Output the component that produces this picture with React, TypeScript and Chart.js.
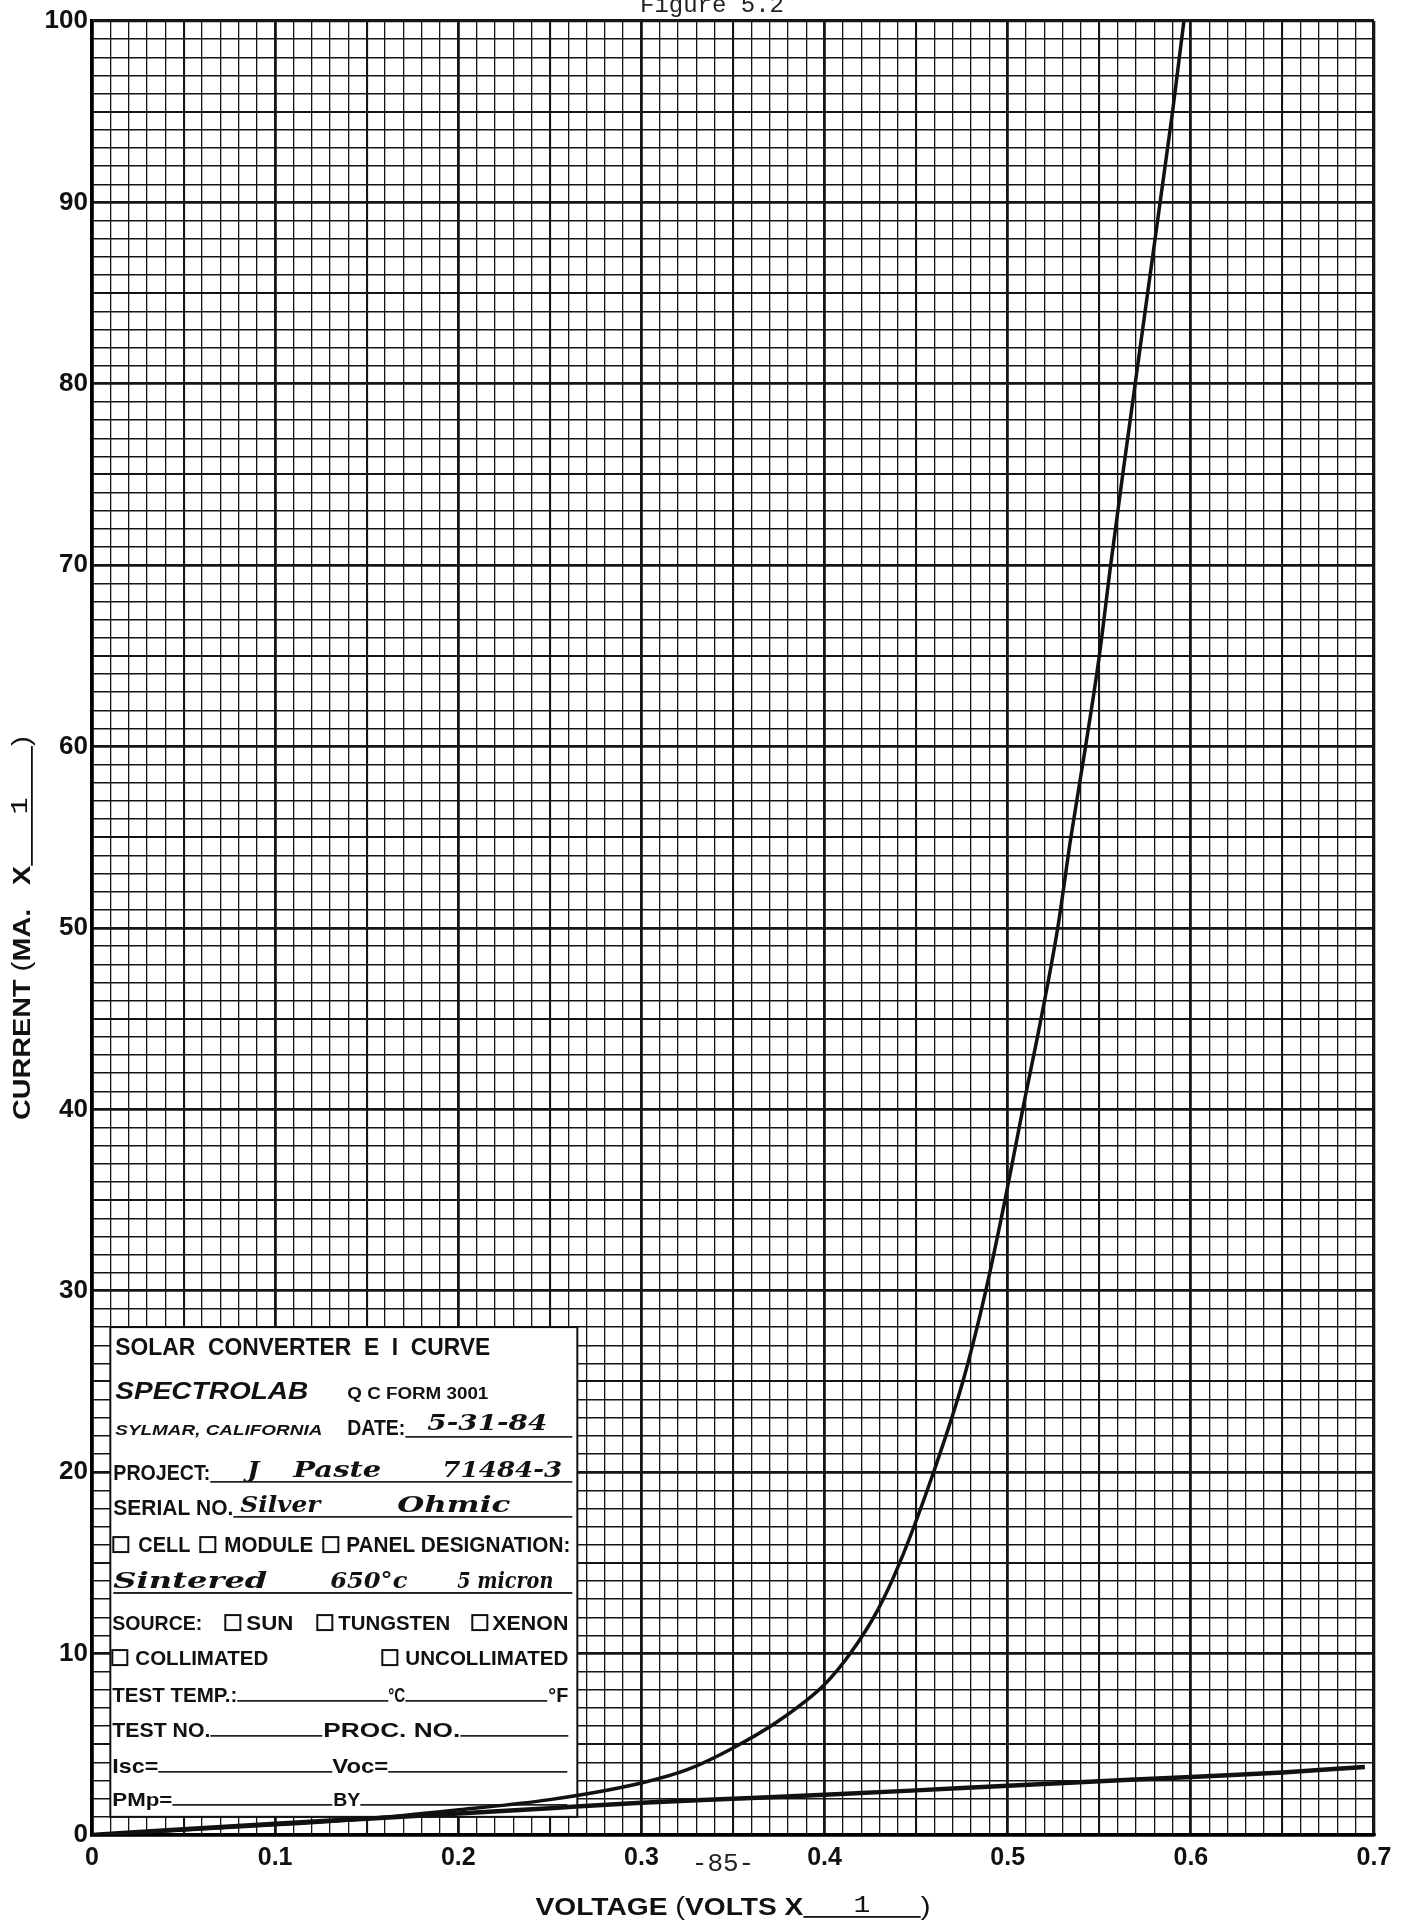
import React, { useEffect, useRef } from 'react';
import { Chart, registerables } from 'chart.js';

Chart.register(...registerables);

// ---- data ----
const steepVolts = [0, 0.05, 0.1, 0.15, 0.2, 0.25, 0.3, 0.325, 0.35, 0.375, 0.4, 0.414, 0.429, 0.441, 0.4595, 0.4755, 0.488, 0.4985, 0.5082, 0.5182, 0.5273, 0.5345, 0.5425, 0.55, 0.5562, 0.5628, 0.5696, 0.5764, 0.5832, 0.59, 0.5962];
const steepCurrent = [0, 0.28, 0.56, 0.9, 1.39, 1.95, 2.87, 3.6, 4.8, 6.3, 8.3, 10, 12.4, 15, 20, 25, 30, 35, 40, 45, 50, 55, 60, 65, 70, 75, 80, 85, 90, 95, 100];
const flatVolts = [0, 0.05, 0.1, 0.15, 0.2, 0.25, 0.3, 0.35, 0.4, 0.45, 0.5, 0.55, 0.6, 0.65, 0.695];
const flatCurrent = [0, 0.32, 0.62, 0.9, 1.18, 1.48, 1.78, 2.0, 2.22, 2.46, 2.72, 2.96, 3.2, 3.45, 3.75];
const xTickLabels = ['0', '0.1', '0.2', '0.3', '0.4', '0.5', '0.6', '0.7'];
const yTickLabels = ['0', '10', '20', '30', '40', '50', '60', '70', '80', '90', '100'];
const yTitleText = 'CURRENT (MA.   X';
const xTitleText = 'VOLTAGE (VOLTS X';
const multiplierText = '1';
const figureCaption = 'Figure 5.2';
const pageNumber = '-85-';

const SANS = '"Liberation Sans", Arial, Helvetica, sans-serif';
const MONO = '"Liberation Mono", "Courier New", monospace';
const HAND = '"DejaVu Serif", "Liberation Serif", serif';

function fitText(ctx: CanvasRenderingContext2D, text: string, x: number, y: number, w: number, font: string) {
  ctx.save();
  ctx.font = font;
  const m = ctx.measureText(text).width || 1;
  ctx.translate(x, y);
  ctx.scale(w / m, 1);
  ctx.textAlign = 'left';
  ctx.textBaseline = 'alphabetic';
  ctx.fillText(text, 0, 0);
  ctx.restore();
}

function hline(ctx: CanvasRenderingContext2D, x0: number, x1: number, y: number, w = 1.6) {
  ctx.fillRect(x0, y, x1 - x0, w);
}

function cbox(ctx: CanvasRenderingContext2D, x: number, baseline: number) {
  ctx.save();
  ctx.lineWidth = 2;
  ctx.strokeStyle = '#111';
  ctx.strokeRect(x, baseline - 15, 15, 15);
  ctx.restore();
}

function drawAxisTitle(ctx: CanvasRenderingContext2D, label: string, cx: number, cy: number, rot: number, target: number) {
  ctx.save();
  ctx.translate(cx, cy);
  ctx.rotate(rot);
  const bold = `bold 24px ${SANS}`;
  const thin = `25px ${SANS}`;
  const idx = label.indexOf('(');
  const a = label.slice(0, idx);
  const b = label.slice(idx + 1);
  ctx.font = bold;
  const wa = ctx.measureText(a).width;
  const wb = ctx.measureText(b).width;
  ctx.font = thin;
  const wp = ctx.measureText('(').width;
  const ul = 100;
  const total = wa + wp + wb + ul + wp;
  ctx.scale(target / total, 1);
  ctx.fillStyle = '#111';
  ctx.textBaseline = 'middle';
  ctx.textAlign = 'left';
  let x = -total / 2;
  ctx.font = bold; ctx.fillText(a, x, 0); x += wa;
  ctx.font = thin; ctx.fillText('(', x, 0); x += wp;
  ctx.font = bold; ctx.fillText(b, x, 0); x += wb;
  ctx.fillRect(x, 8, ul, 1.8);
  ctx.font = `24px ${MONO}`;
  ctx.textAlign = 'center';
  ctx.fillText(multiplierText, x + ul * 0.5, -2);
  ctx.textAlign = 'left';
  x += ul;
  ctx.font = thin; ctx.fillText(')', x, 0);
  ctx.restore();
}

const formPlugin = {
  id: 'qcForm',
  beforeDatasetsDraw(chart: any) {
    const { ctx, scales } = chart;
    const xs = scales.x, ys = scales.y;
    const L = xs.getPixelForValue(0.01), R = xs.getPixelForValue(0.265);
    const T = ys.getPixelForValue(28), B = ys.getPixelForValue(1);
    ctx.save();
    ctx.fillStyle = '#fff';
    ctx.fillRect(L, T, R - L, B - T);
    ctx.strokeStyle = '#111';
    ctx.lineWidth = 2;
    ctx.strokeRect(L, T, R - L, B - T);
    ctx.translate(L - 110, T - 1327);
    ctx.fillStyle = '#111';
    const f = (s: number) => `bold ${s}px ${SANS}`;
    const hand = `italic bold 23px ${HAND}`;
    // rows
    fitText(ctx, 'SOLAR  CONVERTER  E  I  CURVE', 115, 1355, 375, f(23));
    fitText(ctx, 'SPECTROLAB', 115, 1399, 193, `italic bold 23px ${SANS}`);
    fitText(ctx, 'Q C FORM 3001', 347, 1399, 141, f(16));
    fitText(ctx, 'SYLMAR, CALIFORNIA', 115, 1435, 207, `italic bold 14px ${SANS}`);
    fitText(ctx, 'DATE:', 347, 1435, 58, f(22));
    hline(ctx, 405, 572, 1436);
    fitText(ctx, '5-31-84', 427, 1430, 120, hand);
    fitText(ctx, 'PROJECT:', 113, 1480, 97, f(22));
    hline(ctx, 210, 572, 1481);
    fitText(ctx, 'J', 247, 1477, 12, hand);
    fitText(ctx, 'Paste', 293, 1477, 88, hand);
    fitText(ctx, '71484-3', 442, 1477, 120, hand);
    fitText(ctx, 'SERIAL NO.', 113, 1515, 120, f(22));
    hline(ctx, 233, 572, 1516);
    fitText(ctx, 'Silver', 240, 1512, 80, hand);
    fitText(ctx, 'Ohmic', 397, 1512, 113, hand);
    cbox(ctx, 113, 1552);
    fitText(ctx, 'CELL', 138, 1552, 52, f(22));
    cbox(ctx, 200, 1552);
    fitText(ctx, 'MODULE', 224, 1552, 89, f(22));
    cbox(ctx, 323, 1552);
    fitText(ctx, 'PANEL DESIGNATION:', 346, 1552, 224, f(22));
    fitText(ctx, 'Sintered', 113, 1588, 154, hand);
    fitText(ctx, '650°c', 330, 1588, 77, hand);
    fitText(ctx, '5 micron', 457, 1588, 96, hand);
    hline(ctx, 113, 572, 1592, 1.8);
    fitText(ctx, 'SOURCE:', 112, 1630, 90, f(21));
    cbox(ctx, 225, 1630);
    fitText(ctx, 'SUN', 246, 1630, 47, f(21));
    cbox(ctx, 317, 1630);
    fitText(ctx, 'TUNGSTEN', 338, 1630, 112, f(21));
    cbox(ctx, 472, 1630);
    fitText(ctx, 'XENON', 492, 1630, 76, f(21));
    cbox(ctx, 112, 1665);
    fitText(ctx, 'COLLIMATED', 135, 1665, 133, f(21));
    cbox(ctx, 382, 1665);
    fitText(ctx, 'UNCOLLIMATED', 405, 1665, 163, f(21));
    fitText(ctx, 'TEST TEMP.:', 112, 1702, 125, f(21));
    hline(ctx, 237, 388, 1700);
    fitText(ctx, '°C', 388, 1702, 17, f(21));
    hline(ctx, 405, 547, 1700);
    fitText(ctx, '°F', 548, 1702, 20, f(21));
    fitText(ctx, 'TEST NO.', 112, 1737, 98, f(21));
    hline(ctx, 210, 322, 1735);
    fitText(ctx, 'PROC. NO.', 323, 1737, 137, f(21));
    hline(ctx, 460, 568, 1735);
    fitText(ctx, 'Isc=', 112, 1773, 46, f(21));
    hline(ctx, 158, 332, 1771);
    fitText(ctx, 'Voc=', 332, 1773, 56, f(21));
    hline(ctx, 388, 567, 1771);
    fitText(ctx, 'PMp=', 112, 1806, 60, f(19));
    hline(ctx, 172, 332, 1804);
    fitText(ctx, 'BY', 333, 1806, 27, f(19));
    hline(ctx, 360, 567, 1804);
    ctx.restore();
  },
  afterDraw(chart: any) {
    const { ctx, chartArea } = chart;
    const cx = (chartArea.left + chartArea.right) / 2;
    const cy = (chartArea.top + chartArea.bottom) / 2;
    drawAxisTitle(ctx, yTitleText, 23, cy, -Math.PI / 2, 384);
    drawAxisTitle(ctx, xTitleText, cx, 1908, 0, 395);
    ctx.save();
    ctx.fillStyle = '#222';
    ctx.textAlign = 'center';
    ctx.textBaseline = 'alphabetic';
    ctx.font = `24px ${MONO}`;
    ctx.fillText(figureCaption, 712, 12);
    ctx.font = `26px ${MONO}`;
    ctx.fillText(pageNumber, 723, 1871);
    ctx.restore();
  },
};

function xGridWidth(c: any) {
  const v = c.tick ? c.tick.value : 0;
  const k = Math.round(v * 100);
  if (k === 70) return 3.3;
  if (k % 10 === 0) return 2.8;
  if (k % 5 === 0) return 2.1;
  return 1.3;
}
function yGridWidth(c: any) {
  const v = c.tick ? c.tick.value : 0;
  const k = Math.round(v);
  if (k === 100) return 3.3;
  if (k % 10 === 0) return 2.8;
  if (k % 5 === 0) return 2.1;
  return 1.4;
}

export default function App() {
  const ref = useRef<HTMLCanvasElement | null>(null);
  useEffect(() => {
    if (!ref.current) return;
    const chart = new Chart(ref.current, {
      type: 'scatter',
      data: {
        datasets: [
          {
            label: 'steep',
            data: steepVolts.map((v, i) => ({ x: v, y: steepCurrent[i] })),
            showLine: true,
            borderColor: '#111',
            borderWidth: 3.5,
            pointRadius: 0,
            cubicInterpolationMode: 'monotone',
          },
          {
            label: 'flat',
            data: flatVolts.map((v, i) => ({ x: v, y: flatCurrent[i] })),
            showLine: true,
            borderColor: '#111',
            borderWidth: 4.5,
            pointRadius: 0,
            cubicInterpolationMode: 'monotone',
          },
        ],
      },
      options: {
        animation: false,
        responsive: false,
        devicePixelRatio: 1,
        layout: { padding: { top: 21, right: 29, left: 0, bottom: 0 } },
        plugins: { legend: { display: false }, tooltip: { enabled: false }, title: { display: false } },
        scales: {
          x: {
            type: 'linear',
            min: 0,
            max: 0.7,
            afterFit: (s: any) => { s.height = 90; },
            ticks: {
              stepSize: 0.01,
              autoSkip: false,
              maxRotation: 0,
              minRotation: 0,
              maxTicksLimit: 1000,
              padding: 8,
              color: '#111',
              font: { family: SANS, size: 25, weight: 'bold' as const },
              callback: (v: any) => {
                const k = Math.round(Number(v) * 100);
                return k % 10 === 0 ? xTickLabels[k / 10] : '';
              },
            },
            grid: { drawTicks: false, color: '#151515', lineWidth: xGridWidth },
            border: { display: true, width: 3.3, color: '#000' },
          },
          y: {
            type: 'linear',
            min: 0,
            max: 100,
            afterFit: (s: any) => { s.width = 92; },
            ticks: {
              stepSize: 1,
              autoSkip: false,
              maxTicksLimit: 1000,
              padding: 4,
              color: '#111',
              font: { family: SANS, size: 26, weight: 'bold' as const },
              callback: (v: any) => {
                const k = Math.round(Number(v));
                return k % 10 === 0 ? yTickLabels[k / 10] : '';
              },
            },
            grid: { drawTicks: false, color: '#151515', lineWidth: yGridWidth },
            border: { display: true, width: 3.3, color: '#000' },
          },
        },
      } as any,
      plugins: [formPlugin],
    });
    return () => chart.destroy();
  }, []);
  return (
    <div style={{ position: 'absolute', left: 0, top: 0, width: 1403, height: 1925, background: '#fff' }}>
      <canvas ref={ref} width={1403} height={1925} style={{ display: 'block', width: 1403, height: 1925 }} />
    </div>
  );
}
